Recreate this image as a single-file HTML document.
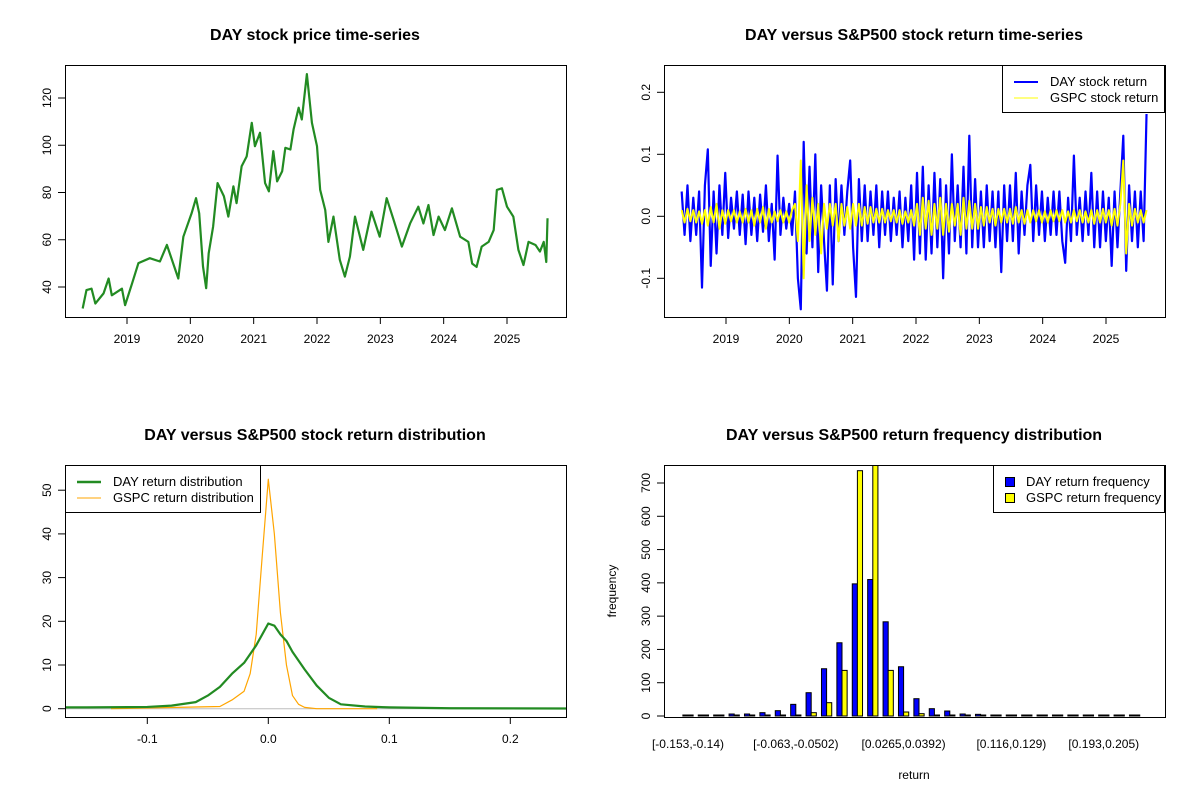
<!DOCTYPE html>
<html><head><meta charset="utf-8"><style>
body{margin:0;background:#fff;}
svg{display:block;font-family:"Liberation Sans",Arial,sans-serif;}
</style></head><body>
<svg id="c" width="1200" height="800" viewBox="0 0 1200 800"></svg>
<script>
// ---------- DATA ----------
const priceYears=[2018.30,2018.36,2018.44,2018.50,2018.63,2018.71,2018.76,2018.92,2018.97,2019.08,2019.18,2019.36,2019.52,2019.63,2019.81,2019.89,2020.02,2020.09,2020.14,2020.20,2020.25,2020.29,2020.36,2020.43,2020.53,2020.60,2020.68,2020.73,2020.81,2020.89,2020.97,2021.02,2021.10,2021.18,2021.24,2021.31,2021.37,2021.45,2021.50,2021.58,2021.63,2021.71,2021.76,2021.84,2021.92,2022.00,2022.05,2022.13,2022.18,2022.26,2022.36,2022.44,2022.52,2022.60,2022.73,2022.86,2022.99,2023.10,2023.21,2023.34,2023.47,2023.60,2023.68,2023.76,2023.84,2023.92,2024.02,2024.13,2024.26,2024.39,2024.45,2024.52,2024.60,2024.71,2024.79,2024.84,2024.92,2025.00,2025.10,2025.18,2025.26,2025.34,2025.45,2025.52,2025.58,2025.62,2025.64];
const priceValues=[30.9,38.7,39.3,33.0,37.3,43.6,36.5,39.3,32.3,41.5,50.1,52.2,50.8,57.8,43.6,61.3,71.2,77.6,71.2,48.7,39.5,54.3,65.6,84.0,78.4,69.8,82.6,75.5,91.1,95.3,109.5,99.6,105.3,84.0,80.5,97.5,84.7,89.0,98.9,98.2,106.7,115.9,110.9,130.1,109.5,99.6,81.1,72.6,59.1,69.8,51.5,44.4,52.9,69.8,55.7,71.9,61.3,77.6,68.4,57.1,66.9,74.0,66.9,74.7,62.0,69.8,64.1,73.3,61.3,59.1,49.9,48.5,57.1,59.1,64.1,81.1,81.8,74.0,69.8,55.7,49.3,59.1,57.8,55.0,59.1,50.6,69.1];
const yearTicks=[2019,2020,2021,2022,2023,2024,2025];
const priceTicks=[40,60,80,100,120];
const retStart=2018.30, retEnd=2025.64;
const dayReturns=[0.04,-0.03,0.05,-0.04,0.03,-0.03,0.04,-0.115,0.05,0.108,
-0.08,0.04,-0.06,0.05,-0.03,0.07,-0.035,0.03,-0.02,0.04,
-0.03,0.035,-0.045,0.04,-0.03,0.03,-0.04,0.035,-0.025,0.05,
-0.04,0.02,-0.07,0.098,-0.03,0.03,-0.02,0.02,-0.03,0.04,
-0.1,-0.15,0.12,-0.06,0.08,-0.05,0.1,-0.09,0.05,-0.04,
-0.12,0.05,-0.11,0.06,-0.04,0.05,-0.03,0.04,0.09,-0.05,
-0.13,0.06,-0.04,0.05,-0.04,0.04,-0.03,0.05,-0.05,0.04,
-0.03,0.04,-0.04,0.03,-0.03,0.04,-0.05,0.03,-0.04,0.05,
-0.07,0.07,-0.06,0.08,-0.07,0.05,-0.06,0.07,-0.05,0.06,
-0.1,0.05,-0.06,0.1,-0.04,0.05,-0.05,0.08,-0.06,0.13,
-0.05,0.06,-0.05,0.04,-0.05,0.05,-0.04,0.04,-0.05,0.04,
-0.09,0.05,-0.04,0.05,-0.04,0.07,-0.06,0.04,-0.03,0.05,
0.083,-0.04,0.05,-0.03,0.04,-0.04,0.03,-0.03,0.04,-0.03,
0.04,-0.04,-0.075,0.03,-0.04,0.098,-0.03,0.03,-0.04,0.04,
-0.03,0.07,-0.05,0.04,-0.05,0.04,-0.04,0.03,-0.08,0.04,
-0.05,0.04,0.13,-0.088,0.05,-0.04,0.04,-0.05,0.04,-0.04,0.165];
const gspcReturns=[0.01,-0.01,0.012,-0.008,0.01,-0.01,0.008,-0.012,0.01,-0.015,
0.015,-0.01,0.02,-0.02,0.01,-0.012,0.01,-0.008,0.01,-0.01,
0.008,-0.01,0.012,-0.01,0.01,-0.015,0.012,-0.01,0.015,-0.02,
0.012,-0.01,0.008,-0.008,0.01,-0.01,0.008,-0.01,0.01,0.02,
-0.04,0.09,-0.1,0.05,-0.04,0.03,-0.03,0.02,-0.06,0.02,
-0.02,0.02,-0.015,0.02,-0.04,0.02,-0.015,0.015,-0.02,0.02,
-0.015,0.02,-0.015,0.015,-0.012,0.015,-0.01,0.012,-0.01,0.012,
-0.01,0.01,-0.008,0.01,-0.01,0.01,-0.012,0.008,-0.01,0.01,
-0.015,0.02,-0.03,0.03,-0.02,0.025,-0.03,0.02,-0.02,0.03,
-0.03,0.02,-0.025,0.02,-0.015,0.02,-0.03,0.03,-0.02,0.025,
-0.02,0.02,-0.02,0.015,-0.015,0.015,-0.01,0.012,-0.015,0.012,
-0.01,0.012,-0.01,0.012,-0.012,0.015,-0.01,0.01,-0.012,0.01,
-0.01,0.01,-0.008,0.01,-0.01,0.008,-0.01,0.01,-0.008,0.01,
-0.008,0.01,-0.01,0.008,-0.01,0.01,-0.008,0.01,-0.01,0.008,
-0.01,0.01,-0.012,0.01,-0.01,0.012,-0.01,0.01,-0.015,0.012,
-0.015,0.02,0.09,-0.06,0.02,-0.015,0.012,-0.01,0.01,-0.01,0.01];
const returnTicks=[-0.1,0.0,0.1,0.2];
const densDayX=[-0.169,-0.15,-0.1,-0.08,-0.06,-0.05,-0.04,-0.03,-0.02,-0.01,0,0.005,0.01,0.015,0.02,0.03,0.04,0.05,0.06,0.08,0.1,0.15,0.247];
const densDayY=[0.3,0.3,0.4,0.7,1.5,3,5,8,10.5,14.5,19.5,19,17,15.5,13,9,5.3,2.5,1,0.5,0.3,0.1,0.05];
const densGspcX=[-0.13,-0.04,-0.03,-0.02,-0.015,-0.01,-0.005,0,0.005,0.01,0.015,0.02,0.025,0.03,0.04,0.09];
const densGspcY=[0,0.5,2,4,8,17,35,52.5,40,22,10,3,1,0.3,0,0];
const densXTicks=[-0.1,0.0,0.1,0.2];
const densYTicks=[0,10,20,30,40,50];
const histDay=[3,2,3,6,6,10,16,35,70,142,220,397,410,283,148,52,22,15,6,5,3,2,2,1,1,0,0,0,0,1];
const histGspc=[0,0,0,0,0,1,1,3,10,40,137,737,900,137,12,7,3,3,2,2,1,1,0,0,0,0,0,0,0,0];
const histLabels=["[-0.153,-0.14)","[-0.063,-0.0502)","[0.0265,0.0392)","[0.116,0.129)","[0.193,0.205)"];
const histLabelGroups=[0,7,14,21,27];
const histYTicks=[0,100,200,300,400,500,600,700];

// ---------- HELPERS ----------
const NS="http://www.w3.org/2000/svg";
const svg=document.getElementById('c');
function mk(tag,attrs,parent){const e=document.createElementNS(NS,tag);for(const k in attrs)e.setAttribute(k,attrs[k]);(parent||svg).appendChild(e);return e;}
function txt(s,x,y,size,opts,parent){const e=mk('text',Object.assign({x:x,y:y,'font-size':size,'text-anchor':'middle',fill:'#000'},opts||{}),parent);e.textContent=s;return e;}
function lin(d0,d1,r0,r1){return v=>r0+(v-d0)*(r1-r0)/(d1-d0);}

function panel(name,x0,y0,x1,y1){
  const g=mk('g',{});
  
  
  const cid='clip-'+name;
  const cp=mk('clipPath',{id:cid},g);mk('rect',{x:x0,y:y0,width:x1-x0,height:y1-y0},cp);
  return {g,cid};
}
function box(g,x0,y0,x1,y1){const r=mk('rect',{x:x0+0.5,y:y0+0.5,width:x1-x0,height:y1-y0,fill:'none',stroke:'#000','stroke-width':1},g);}
function xaxis(g,ticks,sx,yb,labels){
  const a=mk('g',{},g);
  const xs=ticks.map(sx);
  mk('line',{x1:xs[0],x2:xs[xs.length-1],y1:yb+0.5,y2:yb+0.5,stroke:'#000'},a);
  ticks.forEach((t,i)=>{mk('line',{x1:xs[i],x2:xs[i],y1:yb,y2:yb+7,stroke:'#000'},a);
    const l=txt(labels?labels[i]:String(t),xs[i],yb+26,12,{},a);});
}
function yaxis(g,ticks,sy,xl,labels){
  const a=mk('g',{},g);
  const ys=ticks.map(sy);
  mk('line',{x1:xl+0.5,x2:xl+0.5,y1:ys[0],y2:ys[ys.length-1],stroke:'#000'},a);
  ticks.forEach((t,i)=>{mk('line',{x1:xl-7,x2:xl,y1:ys[i],y2:ys[i],stroke:'#000'},a);
    const tx=xl-14;const l=txt(labels?labels[i]:String(t),tx,ys[i],12,{transform:`rotate(-90 ${tx} ${ys[i]})`},a);});
}
function title(g,s,x,y){const t=txt(s,x,y,16,{'font-weight':'bold'},g);}
function path(g,xs,ys,color,w,cid,name){const d=xs.map((x,i)=>(i?'L':'M')+x.toFixed(2)+','+ys[i].toFixed(2)).join('');const p=mk('path',{d:d,fill:'none',stroke:color,'stroke-width':w,'stroke-linejoin':'round','clip-path':`url(#${cid})`},g);return p;}

// ---------- PANEL 1: price ----------
(function(){
  const X0=65,X1=566,Y0=65,Y1=317;
  const {g,cid}=panel('price-panel',X0,Y0,X1,Y1);
  const sx=lin(2019,2025,127,507), sy=lin(40,120,287,98);
  title(g,'DAY stock price time-series',315,40);
  path(g,priceYears.map(sx),priceValues.map(sy),'#228b22',2.2,cid,'price-line');
  box(g,X0,Y0,X1,Y1);
  xaxis(g,yearTicks,sx,Y1);
  yaxis(g,priceTicks,sy,X0);
})();

// ---------- PANEL 2: returns ----------
(function(){
  const X0=664,X1=1165,Y0=65,Y1=317;
  const {g,cid}=panel('returns-panel',X0,Y0,X1,Y1);
  const sx=lin(2019,2025,726,1106), sy=lin(0,0.1,216.3,154.3);
  title(g,'DAY versus S&P500 stock return time-series',914,40);
  const n=dayReturns.length;
  const yrs=dayReturns.map((v,i)=>retStart+(retEnd-retStart)*i/(n-1));
  path(g,yrs.map(sx),dayReturns.map(sy),'#0000ff',2.2,cid,'day-return-line');
  const m=gspcReturns.length;
  const yrs2=gspcReturns.map((v,i)=>retStart+(retEnd-retStart)*i/(m-1));
  path(g,yrs2.map(sx),gspcReturns.map(sy),'#ffff00',2,cid,'gspc-return-line');
  box(g,X0,Y0,X1,Y1);
  xaxis(g,yearTicks,sx,Y1);
  yaxis(g,returnTicks,sy,X0,['-0.1','0.0','0.1','0.2']);
  const L=mk('g',{},g);
  mk('rect',{x:1002.5,y:65.5,width:162,height:47,fill:'#fff',stroke:'#000'},L);
  mk('line',{x1:1014,x2:1038,y1:82,y2:82,stroke:'#0000ff','stroke-width':2},L);
  mk('line',{x1:1014,x2:1038,y1:98,y2:98,stroke:'#ffff00','stroke-width':1},L);
  const a=txt('DAY stock return',1050,86,13,{'text-anchor':'start'},L);
  const b=txt('GSPC stock return',1050,102,13,{'text-anchor':'start'},L);
})();

// ---------- PANEL 3: density ----------
(function(){
  const X0=65,X1=566,Y0=465,Y1=717;
  const {g,cid}=panel('density-panel',X0,Y0,X1,Y1);
  const sx=lin(0,0.1,268.3,389.3), sy=lin(0,10,708.7,665);
  title(g,'DAY versus S&P500 stock return distribution',315,440);
  const zl=mk('line',{x1:X0,x2:X1,y1:sy(0),y2:sy(0),stroke:'#bebebe'},g);
  path(g,densGspcX.map(sx),densGspcY.map(sy),'#ffa500',1.2,cid,'gspc-density-line');
  path(g,densDayX.map(sx),densDayY.map(sy),'#228b22',2.2,cid,'day-density-line');
  box(g,X0,Y0,X1,Y1);
  xaxis(g,densXTicks,sx,Y1,['-0.1','0.0','0.1','0.2']);
  yaxis(g,densYTicks,sy,X0);
  const L=mk('g',{},g);
  mk('rect',{x:65.5,y:465.5,width:195,height:47,fill:'#fff',stroke:'#000'},L);
  mk('line',{x1:77,x2:101,y1:482,y2:482,stroke:'#228b22','stroke-width':2.5},L);
  mk('line',{x1:77,x2:101,y1:498,y2:498,stroke:'#ffa500','stroke-width':1},L);
  const a=txt('DAY return distribution',113,486,13,{'text-anchor':'start'},L);
  const b=txt('GSPC return distribution',113,502,13,{'text-anchor':'start'},L);
})();

// ---------- PANEL 4: histogram ----------
(function(){
  const X0=664,X1=1165,Y0=465,Y1=717;
  const {g,cid}=panel('histogram-panel',X0,Y0,X1,Y1);
  const sy=lin(0,700,716,483);
  const gc=i=>688+i*15.4, bw=5.13;
  title(g,'DAY versus S&P500 return frequency distribution',914,440);
  const bars=mk('g',{'clip-path':`url(#${cid})`},g);
  
  histDay.forEach((v,i)=>{const c=gc(i);const h=Math.max(1,sy(0)-sy(v));const r=mk('rect',{x:c-bw,y:sy(0)-h,width:bw,height:h,fill:'#0000ff',stroke:'#000','stroke-width':1},bars);
    });
  histGspc.forEach((v,i)=>{const c=gc(i);const h=Math.max(1,sy(0)-sy(v));const r=mk('rect',{x:c,y:sy(0)-h,width:bw,height:h,fill:'#ffff00',stroke:'#000','stroke-width':1},bars);
    });
  box(g,X0,Y0,X1,Y1);
  yaxis(g,histYTicks,sy,X0);
  histLabels.forEach((s,k)=>{const t=txt(s,gc(histLabelGroups[k]),748,12,{},g);});
  const xt=txt('return',914,779,12,{},g);
  const yt=txt('frequency',616,591,12,{transform:'rotate(-90 616 591)'},g);
  const L=mk('g',{},g);
  mk('rect',{x:993.5,y:465.5,width:171,height:47,fill:'#fff',stroke:'#000'},L);
  mk('rect',{x:1005.5,y:477.5,width:9,height:9,fill:'#0000ff',stroke:'#000'},L);
  mk('rect',{x:1005.5,y:493.5,width:9,height:9,fill:'#ffff00',stroke:'#000'},L);
  const a=txt('DAY return frequency',1026,486,13,{'text-anchor':'start'},L);
  const b=txt('GSPC return frequency',1026,502,13,{'text-anchor':'start'},L);
})();
</script>
</body></html>
